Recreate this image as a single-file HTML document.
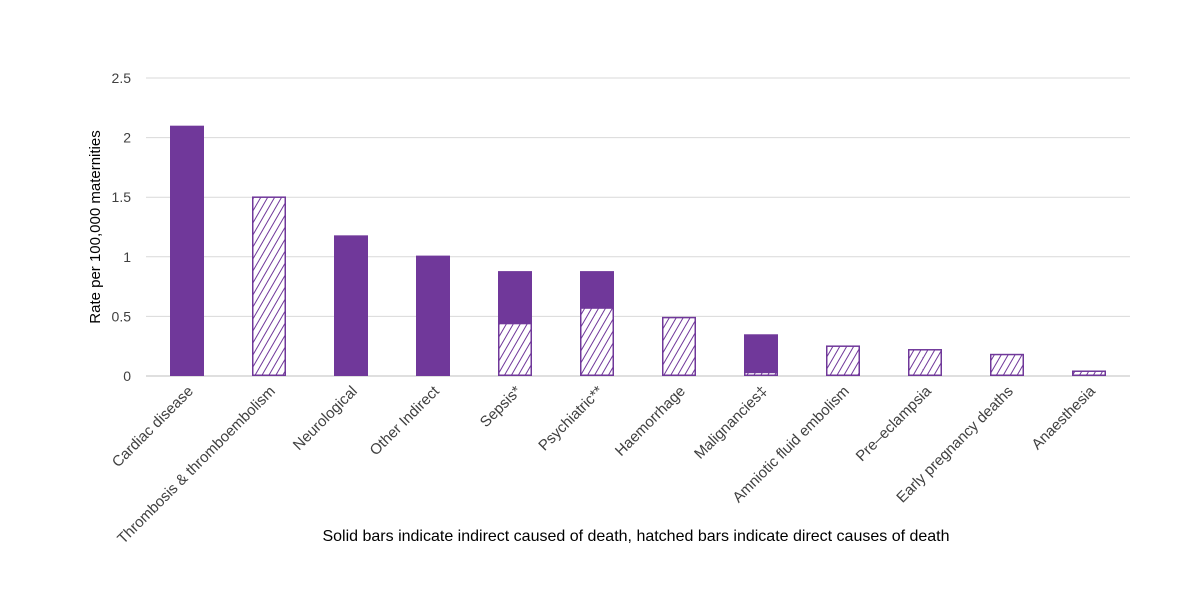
<!DOCTYPE html>
<html><head><meta charset="utf-8"><style>
body{margin:0;background:#fff;}
svg text{font-family:"Liberation Sans",sans-serif;fill:#404040;}
</style></head><body>
<svg id="chart" width="1200" height="588" xmlns="http://www.w3.org/2000/svg">
<defs>
<pattern id="hatch" patternUnits="userSpaceOnUse" width="6" height="6" patternTransform="rotate(30)">
<rect width="6" height="6" fill="#fff"/>
<line x1="0" y1="0" x2="0" y2="6" stroke="#70389a" stroke-width="2"/>
</pattern>
</defs>
<g id="grid"></g><g id="bars"></g><g id="labels"></g>
<text x="100" y="227" transform="rotate(-90 100 227)" text-anchor="middle" font-size="15" style="fill:#000">Rate per 100,000 maternities</text>
<text x="636" y="541" text-anchor="middle" font-size="16" style="fill:#000">Solid bars indicate indirect caused of death, hatched bars indicate direct causes of death</text>
</svg>
<script>
const categories=["Cardiac disease","Thrombosis & thromboembolism","Neurological","Other Indirect","Sepsis*","Psychiatric**","Haemorrhage","Malignancies‡","Amniotic fluid embolism","Pre–eclampsia","Early pregnancy deaths","Anaesthesia"];
const directValues=[0,1.5,0,0,0.44,0.57,0.49,0.03,0.25,0.22,0.18,0.04];
const indirectValues=[2.1,0,1.18,1.01,0.44,0.31,0,0.32,0,0,0,0];
const yTicks=[0,0.5,1,1.5,2,2.5];
const NS="http://www.w3.org/2000/svg";
const y0=376,yTop=78,yMax=2.5,x0=146,x1=1130;
const yScale=v=>y0-(v/yMax)*(y0-yTop);
const step=(x1-x0)/categories.length;
const xC=i=>x0+step*(i+0.5);
const bw=34;
const grid=document.getElementById('grid'),bars=document.getElementById('bars'),labels=document.getElementById('labels');
yTicks.forEach(t=>{
 const l=document.createElementNS(NS,'line');
 l.setAttribute('x1',x0);l.setAttribute('x2',x1);l.setAttribute('y1',yScale(t));l.setAttribute('y2',yScale(t));
 l.setAttribute('stroke',t===0?'#bfbfbf':'#d9d9d9');l.setAttribute('stroke-width','1');
 
 
 grid.appendChild(l);
 const tx=document.createElementNS(NS,'text');
 tx.setAttribute('x',x0-15);tx.setAttribute('y',yScale(t)+5);tx.setAttribute('text-anchor','end');tx.setAttribute('font-size','14');
 tx.textContent=String(t);
 
 
 grid.appendChild(tx);
});
categories.forEach((c,i)=>{
 const d=directValues[i],ind=indirectValues[i];
 if(d>0){
  const r=document.createElementNS(NS,'rect');
  r.setAttribute('x',xC(i)-bw/2+0.75);r.setAttribute('width',bw-1.5);
  r.setAttribute('y',yScale(d));r.setAttribute('height',y0-yScale(d)-0.75);
  r.setAttribute('fill','url(#hatch)');r.setAttribute('stroke','#70389a');r.setAttribute('stroke-width','1.5');
  
  
  bars.appendChild(r);
 }
 if(ind>0){
  const r=document.createElementNS(NS,'rect');
  r.setAttribute('x',xC(i)-bw/2);r.setAttribute('width',bw);
  r.setAttribute('y',yScale(d+ind));r.setAttribute('height',yScale(d)-yScale(d+ind));
  r.setAttribute('fill','#70389a');
  
  
  bars.appendChild(r);
 }
 const t=document.createElementNS(NS,'text');
 const lx=xC(i)+7,ly=392;
 t.setAttribute('x',lx);t.setAttribute('y',ly);t.setAttribute('text-anchor','end');t.setAttribute('font-size','15');
 t.setAttribute('transform','rotate(-45 '+lx+' '+ly+')');
 t.textContent=c;
 
 
 labels.appendChild(t);
});
</script>
</body></html>
